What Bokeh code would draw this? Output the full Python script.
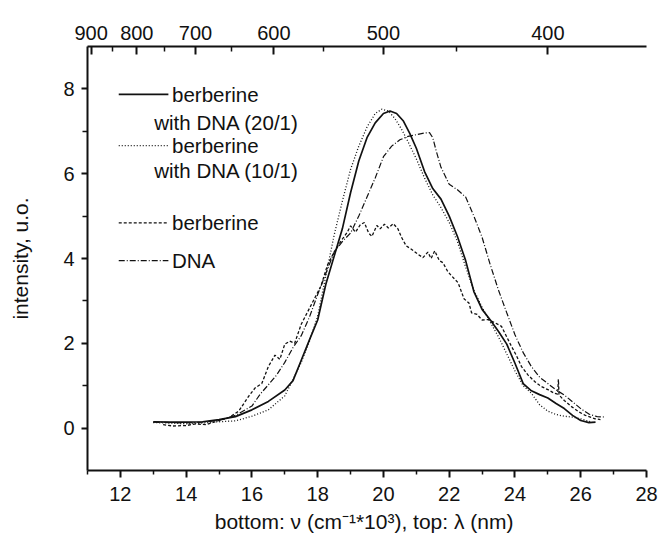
from bokeh.plotting import figure
from bokeh.models import LinearAxis, FixedTicker, CustomJSTickFormatter, Range1d, Label
from bokeh.embed import file_html
from bokeh.resources import INLINE

# ---------------- data ----------------
x_2001 = [13.0, 13.5, 14.0, 14.5, 15.0, 15.5, 16.0, 16.5, 17.0, 17.25, 17.5, 17.75, 18.0, 18.25,
          18.5, 18.75, 19.0, 19.25, 19.5, 19.75, 20.0, 20.2, 20.4, 20.6, 20.8, 21.0, 21.25, 21.5,
          21.75, 22.0, 22.25, 22.5, 22.75, 23.0, 23.25, 23.5, 23.75, 24.0, 24.25, 24.5, 24.75,
          25.0, 25.25, 25.5, 25.75, 26.0, 26.25, 26.45]
y_2001 = [0.15, 0.14, 0.14, 0.15, 0.20, 0.27, 0.43, 0.63, 0.90, 1.12, 1.60, 2.08, 2.55, 3.40,
          4.05, 4.70, 5.55, 6.30, 6.85, 7.20, 7.42, 7.48, 7.42, 7.25, 6.95, 6.60, 6.05, 5.65,
          5.40, 5.00, 4.52, 3.95, 3.22, 2.80, 2.55, 2.28, 1.98, 1.53, 1.05, 0.88, 0.79,
          0.71, 0.58, 0.46, 0.30, 0.18, 0.13, 0.14]

x_1001 = [13.0, 13.5, 14.0, 14.5, 15.0, 15.5, 16.0, 16.5, 17.0, 17.25, 17.5, 17.75, 18.0, 18.25,
          18.5, 18.75, 19.0, 19.25, 19.5, 19.75, 19.95, 20.15, 20.35, 20.55, 20.75, 21.0, 21.25,
          21.5, 21.75, 22.0, 22.25, 22.5, 22.75, 23.0, 23.25, 23.5, 23.75, 24.0, 24.25, 24.5,
          24.75, 25.0, 25.25, 25.5, 25.75, 26.0, 26.25, 26.35]
y_1001 = [0.13, 0.12, 0.10, 0.12, 0.15, 0.17, 0.28, 0.43, 0.76, 1.15, 1.55, 2.05, 2.64, 3.60,
          4.55, 5.35, 6.10, 6.65, 7.10, 7.42, 7.52, 7.48, 7.30, 7.05, 6.75, 6.35, 5.90,
          5.50, 5.20, 4.85, 4.40, 3.80, 3.25, 2.85, 2.50, 2.15, 1.75, 1.35, 1.00, 0.82,
          0.55, 0.40, 0.32, 0.28, 0.26, 0.22, 0.16, 0.14]

x_ber = [13.3, 13.6, 14.0, 14.3, 14.6, 15.0, 15.3, 15.6, 15.9, 16.1, 16.3, 16.5, 16.7, 16.85,
         17.0, 17.15, 17.3, 17.5, 17.7, 17.9, 18.1, 18.3, 18.5, 18.7, 18.9, 19.0, 19.15, 19.3,
         19.42, 19.55, 19.65, 19.8, 19.9, 20.03, 20.15, 20.3, 20.44, 20.55, 20.69, 20.85, 21.05,
         21.2, 21.35, 21.45, 21.56, 21.7, 21.81, 21.95, 22.07, 22.27, 22.45, 22.6, 22.68, 22.85,
         23.0, 23.19, 23.4, 23.59, 23.75, 23.9, 24.05, 24.2, 24.4, 24.61, 24.8, 25.02, 25.2,
         25.3, 25.32, 25.34, 25.5, 25.73, 25.95, 26.14, 26.44, 26.6]
y_ber = [0.08, 0.05, 0.06, 0.10, 0.08, 0.18, 0.25, 0.40, 0.75, 0.95, 1.05, 1.45, 1.72, 1.62,
         1.98, 2.05, 2.00, 2.45, 2.75, 3.05, 3.35, 3.85, 4.15, 4.40, 4.62, 4.77, 4.62, 4.80,
         4.85, 4.60, 4.52, 4.78, 4.70, 4.81, 4.72, 4.82, 4.70, 4.50, 4.30, 4.22, 4.10,
         4.02, 4.15, 4.00, 4.18, 3.95, 3.90, 3.70, 3.59, 3.43, 3.05, 2.95, 2.72, 2.68,
         2.55, 2.56, 2.48, 2.40, 2.15, 1.92, 1.70, 1.45, 1.25, 1.09, 0.98, 0.90, 0.82,
         0.80, 1.15, 0.78, 0.65, 0.50, 0.38, 0.30, 0.22, 0.20]

x_dna = [13.0, 13.5, 14.0, 14.5, 15.0, 15.5, 16.0, 16.25, 16.5, 16.75, 17.0, 17.25, 17.5, 17.75,
         18.0, 18.25, 18.5, 18.75, 19.0, 19.25, 19.5, 19.75, 20.0, 20.25, 20.5, 20.75, 21.0,
         21.25, 21.4, 21.5, 21.6, 21.75, 22.0, 22.25, 22.5, 22.75, 23.0, 23.25, 23.5, 23.75,
         24.0, 24.25, 24.5, 24.75, 25.0, 25.25, 25.5, 25.75, 26.0, 26.25, 26.5, 26.75]
y_dna = [0.14, 0.13, 0.12, 0.14, 0.18, 0.30, 0.52, 0.80, 1.02, 1.25, 1.55, 1.90, 2.18, 2.62,
         3.15, 3.65, 4.15, 4.40, 4.60, 5.00, 5.45, 5.90, 6.40, 6.65, 6.80, 6.88, 6.92,
         6.96, 6.97, 6.85, 6.55, 6.15, 5.75, 5.62, 5.45, 5.00, 4.50, 3.85, 3.25, 2.72,
         2.20, 1.78, 1.45, 1.20, 1.05, 0.90, 0.78, 0.62, 0.46, 0.33, 0.27, 0.26]

bottom_ticks = [12, 14, 16, 18, 20, 22, 24, 26, 28]
bottom_minor = [11, 13, 15, 17, 19, 21, 23, 25, 27]
left_ticks = [0, 2, 4, 6, 8]
left_minor = [1, 3, 5, 7]
top_wavelengths = [900, 800, 700, 600, 500, 400]
top_minor_wavelengths = [850, 750, 650, 550, 450]

legend_labels = ["berberine\nwith DNA (20/1)", "berberine\nwith DNA (10/1)", "berberine", "DNA"]

FONT = "Liberation Sans"
INK = "#111111"

p = figure(width=658, height=540, output_backend="svg", toolbar_location=None,
           x_range=Range1d(11, 28), y_range=Range1d(-1, 9),
           min_border_left=87, min_border_right=12, min_border_top=46, min_border_bottom=70,
           x_axis_location=None, y_axis_location=None)
p.outline_line_color = None
p.xgrid.visible = False
p.ygrid.visible = False
p.background_fill_color = "white"
p.border_fill_color = "white"


def style_axis(ax, tick_in, tick_out, minor_in, minor_out):
    ax.axis_line_width = 2
    ax.axis_line_color = INK
    ax.major_tick_line_width = 2
    ax.major_tick_line_color = INK
    ax.minor_tick_line_width = 1.5
    ax.minor_tick_line_color = INK
    ax.major_tick_in = tick_in
    ax.major_tick_out = tick_out
    ax.minor_tick_in = minor_in
    ax.minor_tick_out = minor_out
    ax.major_label_text_font = FONT
    ax.major_label_text_font_size = "20px"
    ax.major_label_text_color = INK
    ax.axis_label_text_font = FONT
    ax.axis_label_text_font_size = "21px"
    ax.axis_label_text_font_style = "normal"
    ax.axis_label_text_color = INK


bottom = LinearAxis(ticker=FixedTicker(ticks=bottom_ticks, minor_ticks=bottom_minor),
                    axis_label="bottom: \u03bd  (cm\u207b\u00b9*10\u00b3), top: \u03bb (nm)")
style_axis(bottom, 0, 7, 0, 4)
bottom.major_label_standoff = 9
bottom.axis_label_standoff = 6
p.add_layout(bottom, "below")

left = LinearAxis(ticker=FixedTicker(ticks=left_ticks, minor_ticks=left_minor),
                  axis_label="intensity, u.o.")
style_axis(left, 0, 6, 0, 5)
left.major_label_standoff = 7
left.axis_label_standoff = 28
p.add_layout(left, "left")

top = LinearAxis(ticker=FixedTicker(ticks=[1e4 / w for w in top_wavelengths],
                                    minor_ticks=[1e4 / w for w in top_minor_wavelengths]),
                 formatter=CustomJSTickFormatter(code="return Math.round(10000/tick).toString()"))
style_axis(top, 8, 0, 5, 0)
top.major_label_standoff = 7
p.add_layout(top, "above")

# ---------------- curves ----------------
DASH_1001 = "1 2"
DASH_BER = "3 2"
DASH_DNA = "6 2 1 2"
p.line(x_2001, y_2001, line_color=INK, line_width=1.7)
p.line(x_1001, y_1001, line_color=INK, line_width=1.3, line_dash=DASH_1001)
p.line(x_ber, y_ber, line_color=INK, line_width=1.3, line_dash=DASH_BER)
p.line(x_dna, y_dna, line_color=INK, line_width=1.2, line_dash=DASH_DNA)

# ---------------- legend (drawn by hand like the original) ----------------
leg_styles = [dict(line_width=1.7), dict(line_width=1.3, line_dash=DASH_1001),
              dict(line_width=1.3, line_dash=DASH_BER), dict(line_width=1.2, line_dash=DASH_DNA)]
leg_y = [7.87, 6.66, 4.84, 3.95]
second_y = [7.21, 6.07]
for i, lab in enumerate(legend_labels):
    p.line([11.95, 13.46], [leg_y[i], leg_y[i]], line_color=INK, **leg_styles[i])
    parts = lab.split("\n")
    p.add_layout(Label(x=13.57, y=leg_y[i], text=parts[0], text_font=FONT, text_font_size="20.5px",
                       text_baseline="middle", text_color=INK))
    if len(parts) > 1:
        p.add_layout(Label(x=13.03, y=second_y[i], text=parts[1], text_font=FONT,
                           text_font_size="20.5px", text_baseline="middle", text_color=INK))

open("out.html", "w").write(file_html(p, INLINE))
